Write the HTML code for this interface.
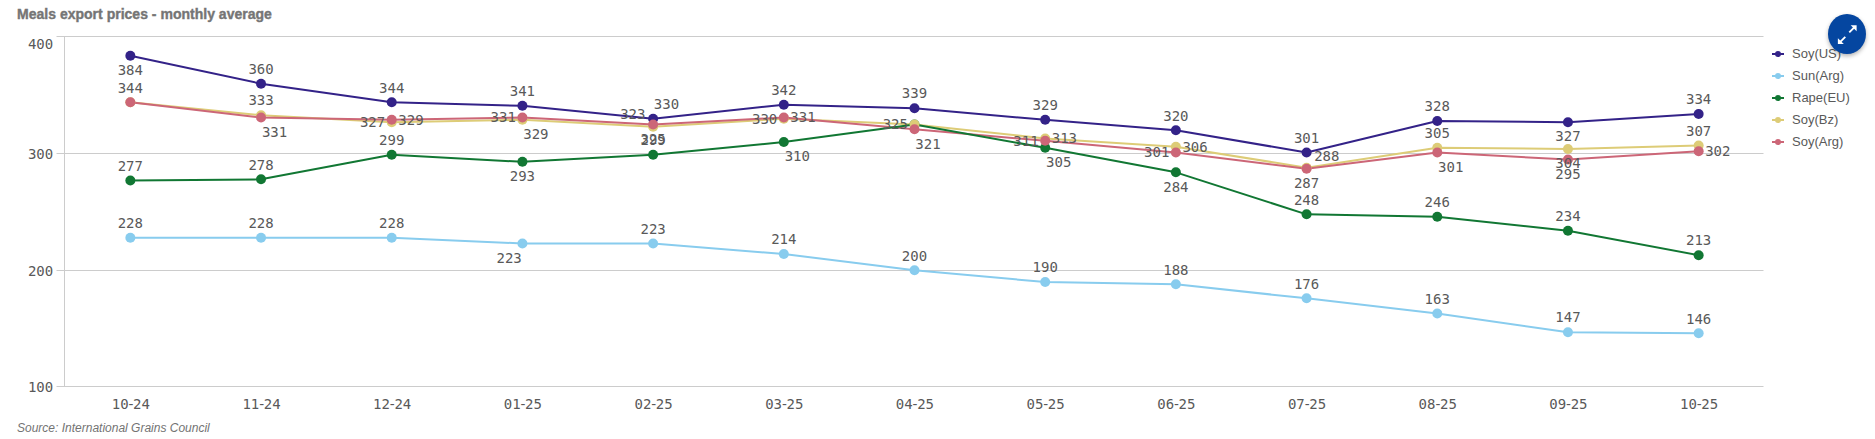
<!DOCTYPE html>
<html><head><meta charset="utf-8"><title>Meals export prices</title>
<style>
html,body{margin:0;padding:0;background:#fff;}
body{width:1875px;height:439px;position:relative;overflow:hidden;font-family:"Liberation Sans",sans-serif;}
.title{position:absolute;left:17px;top:4.6px;font:bold 15px/18px "Liberation Sans",sans-serif;color:#757575;-webkit-text-stroke:0.4px #757575;white-space:nowrap;transform:scaleX(0.935);transform-origin:0 0;}
.foot{position:absolute;left:17px;top:420px;font:italic 12px/16px "Liberation Sans",sans-serif;color:#737373;white-space:nowrap;}
svg text.ax{font:14px "DejaVu Sans Mono","Liberation Mono",monospace;fill:#595959;}
svg text.xax{font:14px "DejaVu Sans Mono","Liberation Mono",monospace;fill:#595959;}
svg text.dl{font:14px "DejaVu Sans Mono","Liberation Mono",monospace;fill:#595959;}
svg text.lg{font:13px "Liberation Sans",sans-serif;fill:#595959;}
.btn{position:absolute;left:1828px;top:13.7px;width:38.3px;height:40.1px;border-radius:50%;background:#0546a0;box-shadow:0 2px 4px rgba(0,0,0,.3);}
</style></head><body>
<div class="title">Meals export prices - monthly average</div>
<svg width="1875" height="439" viewBox="0 0 1875 439" style="position:absolute;left:0;top:0">
<line x1="56.5" y1="36.5" x2="1763.5" y2="36.5" stroke="#cccccc" stroke-width="1"/>
<line x1="56.5" y1="153.5" x2="1763.5" y2="153.5" stroke="#cccccc" stroke-width="1"/>
<line x1="56.5" y1="270.5" x2="1763.5" y2="270.5" stroke="#cccccc" stroke-width="1"/>
<line x1="56.5" y1="386.5" x2="1763.5" y2="386.5" stroke="#cccccc" stroke-width="1"/>
<line x1="64.5" y1="36" x2="64.5" y2="387" stroke="#cccccc" stroke-width="1"/>
<text x="53.2" y="48.9" text-anchor="end" class="ax">400</text>
<text x="53.2" y="158.9" text-anchor="end" class="ax">300</text>
<text x="53.2" y="275.9" text-anchor="end" class="ax">200</text>
<text x="53.2" y="392.0" text-anchor="end" class="ax">100</text>
<text x="111.70" y="408.9" dx="0 0 -1.86 -2.13 0" class="xax">10-24</text>
<text x="242.39" y="408.9" dx="0 0 -1.86 -2.13 0" class="xax">11-24</text>
<text x="373.08" y="408.9" dx="0 0 -1.86 -2.13 0" class="xax">12-24</text>
<text x="503.77" y="408.9" dx="0 0 -1.86 -2.13 0" class="xax">01-25</text>
<text x="634.47" y="408.9" dx="0 0 -1.86 -2.13 0" class="xax">02-25</text>
<text x="765.16" y="408.9" dx="0 0 -1.86 -2.13 0" class="xax">03-25</text>
<text x="895.85" y="408.9" dx="0 0 -1.86 -2.13 0" class="xax">04-25</text>
<text x="1026.54" y="408.9" dx="0 0 -1.86 -2.13 0" class="xax">05-25</text>
<text x="1157.23" y="408.9" dx="0 0 -1.86 -2.13 0" class="xax">06-25</text>
<text x="1287.93" y="408.9" dx="0 0 -1.86 -2.13 0" class="xax">07-25</text>
<text x="1418.62" y="408.9" dx="0 0 -1.86 -2.13 0" class="xax">08-25</text>
<text x="1549.31" y="408.9" dx="0 0 -1.86 -2.13 0" class="xax">09-25</text>
<text x="1680.00" y="408.9" dx="0 0 -1.86 -2.13 0" class="xax">10-25</text>
<polyline points="130.35,102.33 261.04,115.17 391.73,122.17 522.42,119.83 653.12,126.83 783.81,118.67 914.50,124.50 1045.19,138.50 1175.88,146.67 1306.58,167.67 1437.27,147.83 1567.96,149.00 1698.65,145.50" fill="none" stroke="#ddcc77" stroke-width="2" stroke-linejoin="round"/>
<polyline points="130.35,102.33 261.04,117.50 391.73,119.83 522.42,117.50 653.12,124.50 783.81,117.50 914.50,129.17 1045.19,140.83 1175.88,152.50 1306.58,168.83 1437.27,152.50 1567.96,159.50 1698.65,151.33" fill="none" stroke="#cc6677" stroke-width="2" stroke-linejoin="round"/>
<polyline points="130.35,180.50 261.04,179.33 391.73,154.83 522.42,161.83 653.12,154.83 783.81,142.00 914.50,124.50 1045.19,147.83 1175.88,172.33 1306.58,214.33 1437.27,216.67 1567.96,230.67 1698.65,255.17" fill="none" stroke="#117733" stroke-width="2" stroke-linejoin="round"/>
<polyline points="130.35,237.67 261.04,237.67 391.73,237.67 522.42,243.50 653.12,243.50 783.81,254.00 914.50,270.33 1045.19,282.00 1175.88,284.33 1306.58,298.33 1437.27,313.50 1567.96,332.17 1698.65,333.33" fill="none" stroke="#88ccee" stroke-width="2" stroke-linejoin="round"/>
<polyline points="130.35,55.67 261.04,83.67 391.73,102.33 522.42,105.83 653.12,118.67 783.81,104.67 914.50,108.17 1045.19,119.83 1175.88,130.33 1306.58,152.50 1437.27,121.00 1567.96,122.17 1698.65,114.00" fill="none" stroke="#332288" stroke-width="2" stroke-linejoin="round"/>
<circle cx="130.35" cy="55.67" r="5" fill="#332288"/>
<circle cx="261.04" cy="83.67" r="5" fill="#332288"/>
<circle cx="391.73" cy="102.33" r="5" fill="#332288"/>
<circle cx="522.42" cy="105.83" r="5" fill="#332288"/>
<circle cx="653.12" cy="118.67" r="5" fill="#332288"/>
<circle cx="783.81" cy="104.67" r="5" fill="#332288"/>
<circle cx="914.50" cy="108.17" r="5" fill="#332288"/>
<circle cx="1045.19" cy="119.83" r="5" fill="#332288"/>
<circle cx="1175.88" cy="130.33" r="5" fill="#332288"/>
<circle cx="1306.58" cy="152.50" r="5" fill="#332288"/>
<circle cx="1437.27" cy="121.00" r="5" fill="#332288"/>
<circle cx="1567.96" cy="122.17" r="5" fill="#332288"/>
<circle cx="1698.65" cy="114.00" r="5" fill="#332288"/>
<circle cx="130.35" cy="237.67" r="5" fill="#88ccee"/>
<circle cx="261.04" cy="237.67" r="5" fill="#88ccee"/>
<circle cx="391.73" cy="237.67" r="5" fill="#88ccee"/>
<circle cx="522.42" cy="243.50" r="5" fill="#88ccee"/>
<circle cx="653.12" cy="243.50" r="5" fill="#88ccee"/>
<circle cx="783.81" cy="254.00" r="5" fill="#88ccee"/>
<circle cx="914.50" cy="270.33" r="5" fill="#88ccee"/>
<circle cx="1045.19" cy="282.00" r="5" fill="#88ccee"/>
<circle cx="1175.88" cy="284.33" r="5" fill="#88ccee"/>
<circle cx="1306.58" cy="298.33" r="5" fill="#88ccee"/>
<circle cx="1437.27" cy="313.50" r="5" fill="#88ccee"/>
<circle cx="1567.96" cy="332.17" r="5" fill="#88ccee"/>
<circle cx="1698.65" cy="333.33" r="5" fill="#88ccee"/>
<circle cx="130.35" cy="180.50" r="5" fill="#117733"/>
<circle cx="261.04" cy="179.33" r="5" fill="#117733"/>
<circle cx="391.73" cy="154.83" r="5" fill="#117733"/>
<circle cx="522.42" cy="161.83" r="5" fill="#117733"/>
<circle cx="653.12" cy="154.83" r="5" fill="#117733"/>
<circle cx="783.81" cy="142.00" r="5" fill="#117733"/>
<circle cx="914.50" cy="124.50" r="5" fill="#117733"/>
<circle cx="1045.19" cy="147.83" r="5" fill="#117733"/>
<circle cx="1175.88" cy="172.33" r="5" fill="#117733"/>
<circle cx="1306.58" cy="214.33" r="5" fill="#117733"/>
<circle cx="1437.27" cy="216.67" r="5" fill="#117733"/>
<circle cx="1567.96" cy="230.67" r="5" fill="#117733"/>
<circle cx="1698.65" cy="255.17" r="5" fill="#117733"/>
<circle cx="130.35" cy="102.33" r="5" fill="#ddcc77"/>
<circle cx="261.04" cy="115.17" r="5" fill="#ddcc77"/>
<circle cx="391.73" cy="122.17" r="5" fill="#ddcc77"/>
<circle cx="522.42" cy="119.83" r="5" fill="#ddcc77"/>
<circle cx="653.12" cy="126.83" r="5" fill="#ddcc77"/>
<circle cx="783.81" cy="118.67" r="5" fill="#ddcc77"/>
<circle cx="914.50" cy="124.50" r="5" fill="#ddcc77"/>
<circle cx="1045.19" cy="138.50" r="5" fill="#ddcc77"/>
<circle cx="1175.88" cy="146.67" r="5" fill="#ddcc77"/>
<circle cx="1306.58" cy="167.67" r="5" fill="#ddcc77"/>
<circle cx="1437.27" cy="147.83" r="5" fill="#ddcc77"/>
<circle cx="1567.96" cy="149.00" r="5" fill="#ddcc77"/>
<circle cx="1698.65" cy="145.50" r="5" fill="#ddcc77"/>
<circle cx="130.35" cy="102.33" r="5" fill="#cc6677"/>
<circle cx="261.04" cy="117.50" r="5" fill="#cc6677"/>
<circle cx="391.73" cy="119.83" r="5" fill="#cc6677"/>
<circle cx="522.42" cy="117.50" r="5" fill="#cc6677"/>
<circle cx="653.12" cy="124.50" r="5" fill="#cc6677"/>
<circle cx="783.81" cy="117.50" r="5" fill="#cc6677"/>
<circle cx="914.50" cy="129.17" r="5" fill="#cc6677"/>
<circle cx="1045.19" cy="140.83" r="5" fill="#cc6677"/>
<circle cx="1175.88" cy="152.50" r="5" fill="#cc6677"/>
<circle cx="1306.58" cy="168.83" r="5" fill="#cc6677"/>
<circle cx="1437.27" cy="152.50" r="5" fill="#cc6677"/>
<circle cx="1567.96" cy="159.50" r="5" fill="#cc6677"/>
<circle cx="1698.65" cy="151.33" r="5" fill="#cc6677"/>
<text x="130.35" y="74.97" text-anchor="middle" class="dl">384</text>
<text x="261.04" y="73.97" text-anchor="middle" class="dl">360</text>
<text x="391.73" y="92.63" text-anchor="middle" class="dl">344</text>
<text x="522.42" y="96.13" text-anchor="middle" class="dl">341</text>
<text x="666.52" y="108.87" text-anchor="middle" class="dl">330</text>
<text x="783.81" y="94.97" text-anchor="middle" class="dl">342</text>
<text x="914.50" y="98.47" text-anchor="middle" class="dl">339</text>
<text x="1045.19" y="110.13" text-anchor="middle" class="dl">329</text>
<text x="1175.88" y="120.63" text-anchor="middle" class="dl">320</text>
<text x="1306.58" y="142.80" text-anchor="middle" class="dl">301</text>
<text x="1437.27" y="111.30" text-anchor="middle" class="dl">328</text>
<text x="1567.96" y="141.47" text-anchor="middle" class="dl">327</text>
<text x="1698.65" y="104.30" text-anchor="middle" class="dl">334</text>
<text x="130.35" y="227.97" text-anchor="middle" class="dl">228</text>
<text x="261.04" y="227.97" text-anchor="middle" class="dl">228</text>
<text x="391.73" y="227.97" text-anchor="middle" class="dl">228</text>
<text x="509.12" y="262.70" text-anchor="middle" class="dl">223</text>
<text x="653.12" y="233.80" text-anchor="middle" class="dl">223</text>
<text x="783.81" y="244.30" text-anchor="middle" class="dl">214</text>
<text x="914.50" y="260.63" text-anchor="middle" class="dl">200</text>
<text x="1045.19" y="272.30" text-anchor="middle" class="dl">190</text>
<text x="1175.88" y="274.63" text-anchor="middle" class="dl">188</text>
<text x="1306.58" y="288.63" text-anchor="middle" class="dl">176</text>
<text x="1437.27" y="303.80" text-anchor="middle" class="dl">163</text>
<text x="1567.96" y="322.47" text-anchor="middle" class="dl">147</text>
<text x="1698.65" y="323.63" text-anchor="middle" class="dl">146</text>
<text x="130.35" y="170.80" text-anchor="middle" class="dl">277</text>
<text x="261.04" y="169.63" text-anchor="middle" class="dl">278</text>
<text x="391.73" y="145.13" text-anchor="middle" class="dl">299</text>
<text x="522.42" y="181.13" text-anchor="middle" class="dl">293</text>
<text x="653.12" y="145.13" text-anchor="middle" class="dl">299</text>
<text x="797.31" y="161.40" text-anchor="middle" class="dl">310</text>
<text x="1058.69" y="167.23" text-anchor="middle" class="dl">305</text>
<text x="1175.88" y="191.63" text-anchor="middle" class="dl">284</text>
<text x="1306.58" y="204.63" text-anchor="middle" class="dl">248</text>
<text x="1437.27" y="206.97" text-anchor="middle" class="dl">246</text>
<text x="1567.96" y="220.97" text-anchor="middle" class="dl">234</text>
<text x="1698.65" y="245.47" text-anchor="middle" class="dl">213</text>
<text x="261.04" y="105.47" text-anchor="middle" class="dl">333</text>
<text x="372.53" y="127.07" text-anchor="middle" class="dl">327</text>
<text x="535.92" y="139.23" text-anchor="middle" class="dl">329</text>
<text x="632.82" y="119.43" text-anchor="middle" class="dl">323</text>
<text x="764.61" y="123.57" text-anchor="middle" class="dl">330</text>
<text x="895.30" y="129.40" text-anchor="middle" class="dl">325</text>
<text x="1064.39" y="143.40" text-anchor="middle" class="dl">313</text>
<text x="1195.08" y="151.57" text-anchor="middle" class="dl">306</text>
<text x="1326.78" y="160.87" text-anchor="middle" class="dl">288</text>
<text x="1437.27" y="138.13" text-anchor="middle" class="dl">305</text>
<text x="1567.96" y="168.30" text-anchor="middle" class="dl">304</text>
<text x="1698.65" y="135.80" text-anchor="middle" class="dl">307</text>
<text x="130.35" y="92.63" text-anchor="middle" class="dl">344</text>
<text x="274.54" y="136.90" text-anchor="middle" class="dl">331</text>
<text x="410.93" y="124.73" text-anchor="middle" class="dl">329</text>
<text x="503.22" y="122.40" text-anchor="middle" class="dl">331</text>
<text x="653.12" y="143.80" text-anchor="middle" class="dl">325</text>
<text x="803.01" y="122.40" text-anchor="middle" class="dl">331</text>
<text x="928.00" y="148.57" text-anchor="middle" class="dl">321</text>
<text x="1025.99" y="145.73" text-anchor="middle" class="dl">311</text>
<text x="1156.68" y="157.40" text-anchor="middle" class="dl">301</text>
<text x="1306.58" y="188.13" text-anchor="middle" class="dl">287</text>
<text x="1450.77" y="171.90" text-anchor="middle" class="dl">301</text>
<text x="1567.96" y="178.80" text-anchor="middle" class="dl">295</text>
<text x="1717.85" y="156.23" text-anchor="middle" class="dl">302</text>
<line x1="1772" y1="54" x2="1784" y2="54" stroke="#332288" stroke-width="2"/>
<circle cx="1778" cy="54" r="3" fill="#332288"/>
<text x="1792" y="58.2" class="lg">Soy(US)</text>
<line x1="1772" y1="76" x2="1784" y2="76" stroke="#88ccee" stroke-width="2"/>
<circle cx="1778" cy="76" r="3" fill="#88ccee"/>
<text x="1792" y="80.2" class="lg">Sun(Arg)</text>
<line x1="1772" y1="98" x2="1784" y2="98" stroke="#117733" stroke-width="2"/>
<circle cx="1778" cy="98" r="3" fill="#117733"/>
<text x="1792" y="102.2" class="lg">Rape(EU)</text>
<line x1="1772" y1="120" x2="1784" y2="120" stroke="#ddcc77" stroke-width="2"/>
<circle cx="1778" cy="120" r="3" fill="#ddcc77"/>
<text x="1792" y="124.2" class="lg">Soy(Bz)</text>
<line x1="1772" y1="142" x2="1784" y2="142" stroke="#cc6677" stroke-width="2"/>
<circle cx="1778" cy="142" r="3" fill="#cc6677"/>
<text x="1792" y="146.2" class="lg">Soy(Arg)</text>
</svg>
<div class="btn"><svg width="38" height="40" viewBox="0 0 38 40" style="display:block"><g fill="#fff" stroke="#fff" stroke-width="1.9"><path d="M21.3 18.4 L26.5 13.2" fill="none"/><path d="M17.3 22.8 L12 28.1" fill="none"/><path d="M22.7 11.3 H28.6 V17.2 Z" stroke="none"/><path d="M15.8 30.1 H9.9 V24.2 Z" stroke="none"/></g></svg></div>
<div class="foot">Source: International Grains Council</div>
</body></html>
